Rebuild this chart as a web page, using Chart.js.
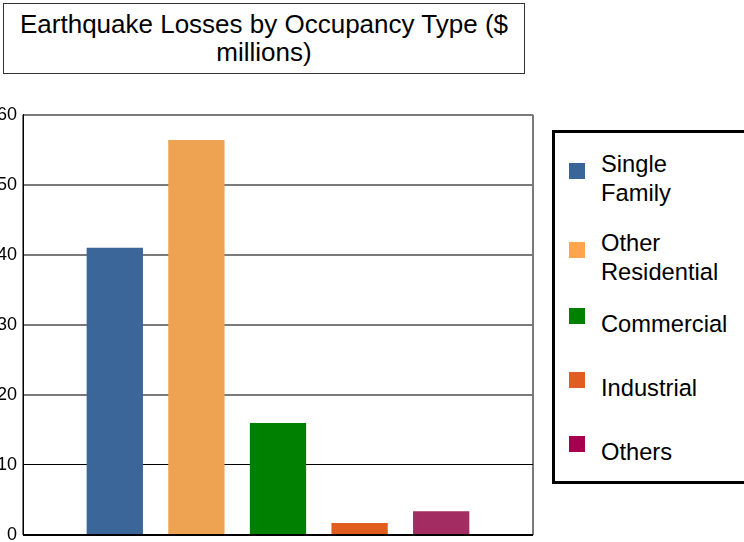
<!DOCTYPE html>
<html>
<head>
<meta charset="utf-8">
<script src="https://cdn.jsdelivr.net/npm/chart.js@4.4.1/dist/chart.umd.min.js"></script>
<style>
    body { margin: 0; width: 744px; height: 542px; overflow: hidden; background: #fff; position: relative;
           font-family: "Liberation Sans", Arial, sans-serif; }
    #title { position: absolute; left: 3px; top: 3px; width: 520px; height: 63px; border: 1px solid #333;
             font-size: 26px; line-height: 28px; text-align: center; padding-top: 6px; }
    #chart_box { position: absolute; left: -30px; top: 98px; width: 570px; height: 460px; }
    #legend { position: absolute; left: 552px; top: 130px; width: 220px; height: 354px; border: 3px solid #000;
              padding: 17px 0 0 14px; box-sizing: border-box; }
    .item { min-height: 64px; padding-bottom: 21px; box-sizing: border-box; }
    .row { display: flex; align-items: center; }
    .swatch { width: 16px; height: 16px; margin-bottom: 16px; margin-right: 16px; flex: none; }
    .text { width: 135px; font-size: 23.7px; line-height: 29px; color: #000; }
</style>
</head>
<body>
<div id="title">Earthquake Losses by Occupancy Type ($ millions)</div>
<div id="chart_box"><canvas id="loss_chart"></canvas></div>
<div id="legend"></div>
<script>
// losses per occupancy type, $ millions
const occupancyTypes = ["Single Family", "Other Residential", "Commercial", "Industrial", "Others"];
const losses = [41.0, 56.4, 16.0, 1.7, 3.4];
const barColors = ["#3A6699", "#EEA353", "#008000", "#E05C1F", "#A32D63"];
const swatchColors = ["#3A6599", "#FFA54F", "#008000", "#E05C20", "#A5004F"];
const yTicks = [0, 10, 20, 30, 40, 50, 60];

// one dataset per type so each gets its own legend entry
const datasets = occupancyTypes.map((name, i) => ({
    label: name,
    data: [losses[i]],
    backgroundColor: barColors[i],
    categoryPercentage: 0.8,
    barPercentage: 0.69
}));

// grid line look depends on the value
gridColor = (ctx) => {
    const v = ctx.tick ? ctx.tick.value : null;
    if (v === 0 || v === 10) return "#000";
    return "#7a7a7a";
}
gridWidth = (ctx) => {
    const v = ctx.tick ? ctx.tick.value : null;
    if (v === 10) return 1;
    return 2;
}

const chart = new Chart("loss_chart", {
    type: "bar",
    data: { labels: [""], datasets: datasets },
    options: {
        responsive: true,
        maintainAspectRatio: false,
        animation: false,
        layout: { padding: { top: 14, right: 7, bottom: 23, left: 0 } },
        plugins: {
            legend: { display: false },
            title: { display: false },
            tooltip: { enabled: false }
        },
        scales: {
            x: {
                ticks: { display: false },
                grid: { color: "#7a7a7a", lineWidth: 2, drawTicks: false },
                border: { display: false },
                afterFit: (scale) => { scale.height = 0; }
            },
            y: {
                min: 0,
                max: 60,
                afterBuildTicks: (scale) => { scale.ticks = yTicks.map(v => ({ value: v })); },
                ticks: {
                    color: "#000",
                    padding: 6,
                    font: { family: "'Liberation Sans', Arial, sans-serif", size: 18 }
                },
                grid: { color: gridColor, lineWidth: gridWidth, drawTicks: false },
                border: { color: "#000", width: 1 },
                afterFit: (scale) => { scale.width = 53; }
            }
        }
    }
});

// legend built from the datasets so labels can wrap
const legend = document.getElementById("legend");
chart.data.datasets.forEach((ds, i) => {
    const item = document.createElement("div");
    item.className = "item";
    const row = document.createElement("div");
    row.className = "row";
    const swatch = document.createElement("div");
    swatch.className = "swatch";
    swatch.style.background = swatchColors[i];
    const text = document.createElement("div");
    text.className = "text";
    text.innerHTML = ds.label;
    row.appendChild(swatch);
    row.appendChild(text);
    item.appendChild(row);
    legend.appendChild(item);
});
</script>
</body>
</html>
